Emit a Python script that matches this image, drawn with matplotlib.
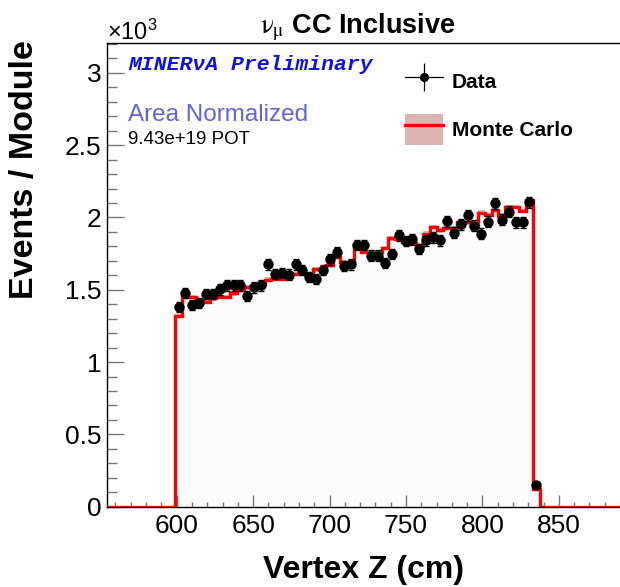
import numpy as np
import matplotlib
matplotlib.use('Agg')
import matplotlib.pyplot as plt
from matplotlib.lines import Line2D
from matplotlib.patches import Patch
from matplotlib.legend_handler import HandlerTuple

plt.rcParams['font.family'] = ['Liberation Sans', 'DejaVu Sans']
plt.rcParams['mathtext.fontset'] = 'stix'
plt.rcParams['hatch.color'] = '#c08080'
plt.rcParams['hatch.linewidth'] = 0.6

# ---------------- data (values in units of 10^3 events / module) ----------------
bin_low = 599.0
bin_width = 4.5
data_vals = [1.378, 1.475, 1.394, 1.410, 1.468, 1.468, 1.502, 1.530, 1.530, 1.530,
             1.458, 1.516, 1.530, 1.675, 1.610, 1.617, 1.605, 1.675, 1.636, 1.590,
             1.574, 1.636, 1.710, 1.762, 1.663, 1.675, 1.809, 1.809, 1.737, 1.737,
             1.686, 1.748, 1.878, 1.838, 1.848, 1.781, 1.843, 1.862, 1.843, 1.974,
             1.896, 1.954, 2.016, 1.942, 1.889, 1.970, 2.097, 1.986, 2.041, 1.968,
             1.968, 2.106, 0.150]
data_errs = [0.035, 0.035, 0.035, 0.035, 0.035, 0.035, 0.035, 0.035, 0.035, 0.035,
             0.035, 0.035, 0.035, 0.036, 0.036, 0.036, 0.036, 0.036, 0.036, 0.036,
             0.036, 0.036, 0.036, 0.037, 0.036, 0.036, 0.037, 0.037, 0.037, 0.037,
             0.037, 0.037, 0.038, 0.037, 0.037, 0.037, 0.037, 0.038, 0.037, 0.038,
             0.038, 0.038, 0.038, 0.038, 0.038, 0.038, 0.039, 0.038, 0.039, 0.038,
             0.038, 0.039, 0.010]
mc_vals = [1.318, 1.451, 1.451, 1.424, 1.417, 1.440, 1.451, 1.451, 1.475, 1.498,
           1.516, 1.525, 1.540, 1.570, 1.574, 1.578, 1.588, 1.610, 1.613, 1.610,
           1.642, 1.645, 1.670, 1.728, 1.690, 1.668, 1.807, 1.760, 1.760, 1.762,
           1.788, 1.855, 1.852, 1.833, 1.825, 1.805, 1.889, 1.933, 1.912, 1.928,
           1.928, 1.966, 1.966, 1.940, 2.034, 2.016, 2.052, 2.012, 2.073, 2.073,
           2.044, 2.120, 0.122]
mc_errs = [0.016] * 52 + [0.004]

x_range = (554.25, 889.7)
y_range = (0.0, 3.21)
x_major = [600, 650, 700, 750, 800, 850]
y_major = [0, 0.5, 1, 1.5, 2, 2.5, 3]
y_tick_labels = ['0', '0.5', '1', '1.5', '2', '2.5', '3']

# ---------------- figure ----------------
W, H = 620, 587
fig = plt.figure(figsize=(W / 100, H / 100), dpi=100)
ax_l, ax_b, ax_t = 106.7 / W, (H - 506.7) / H, (H - 42.5) / H
ax = fig.add_axes([ax_l, ax_b, 1.0 - ax_l, ax_t - ax_b])

n = len(mc_vals)
edges = bin_low + bin_width * np.arange(n + 1)
centers = 0.5 * (edges[:-1] + edges[1:])
mc = np.array(mc_vals)
mce = np.array(mc_errs)

# faint fill under MC
ax.stairs(mc, edges, fill=True, color='#fcfcfc', baseline=0, zorder=1)
# MC error band
ax.stairs(mc + mce, edges, baseline=mc - mce, fill=True, color='#e4b0b0', zorder=2)
# MC line (extended with zero outside the bins across the full axis range)
ext_edges = np.concatenate([[x_range[0]], edges, [x_range[1]]])
ext_vals = np.concatenate([[0.0], mc, [0.0]])
ax.stairs(ext_vals, ext_edges, baseline=None, color='#ff0000', lw=2.4, zorder=3)

# data
ax.errorbar(centers, data_vals, yerr=data_errs, fmt='o', color='black', ms=6.5,
            elinewidth=1.0, capsize=2.5, capthick=1.0, zorder=5)

ax.set_xlim(*x_range)
ax.set_ylim(*y_range)
ax.set_xticks(x_major)
ax.set_xticks(np.arange(560, 891, 10), minor=True)
ax.set_yticks(y_major)
ax.set_yticklabels(y_tick_labels)
ax.set_yticks(np.arange(0, 3.21, 0.1), minor=True)

ax.spines['right'].set_visible(False)
for s in ['left', 'bottom', 'top']:
    ax.spines[s].set_linewidth(1.0)
ax.tick_params(axis='x', which='major', direction='in', length=8.6, width=1.0,
               color='#777777', labelsize=19, pad=5.5)
ax.tick_params(axis='x', which='minor', direction='in', length=3.6, width=1.0,
               color='#777777')
ax.tick_params(axis='y', which='major', direction='in', length=12, width=1.0,
               color='#777777', labelsize=19, pad=3.6)
ax.tick_params(axis='y', which='minor', direction='in', length=7, width=1.0,
               color='#777777')

# axis titles
fig.text(364 / W, (H - 570) / H, 'Vertex Z (cm)', ha='center', va='center',
         fontsize=23, fontweight='bold')
fig.text(25 / W, (H - 40) / H, 'Events / Module', ha='center', va='top',
         rotation=90, fontsize=24.5, fontweight='bold')

# title and multiplier
fig.text(358 / W, (H - 33) / H, r'$\mathrm{\nu_{\mu}}$ CC Inclusive', ha='center',
         va='baseline', fontsize=19.5, fontweight='bold')
fig.text(107 / W, (H - 40) / H, r'$\mathregular{\times10^{3}}$', ha='left',
         va='baseline', fontsize=17)

# annotations
fig.text(128 / W, (H - 65) / H, 'MINERνA Preliminary', ha='left', va='center',
         fontsize=15.4, color='#1010ee', fontweight='bold', fontstyle='italic',
         family=['Liberation Mono', 'DejaVu Sans Mono'])
fig.text(128 / W, (H - 115) / H, 'Area Normalized', ha='left', va='center',
         fontsize=17.5, color='#6262e2')
fig.text(128 / W, (H - 140) / H, '9.43e+19 POT', ha='left', va='center',
         fontsize=13.5, color='black')

# legend
h_data = (Line2D([], [], color='black', lw=0.9, marker='|', ms=20, mew=0.9),
          Line2D([], [], color='black', ls='', marker='o', ms=5.5))
h_mc = (Patch(facecolor='#dcb4b4', edgecolor='none', hatch='....'),
        Line2D([], [], color='#ff0000', lw=2.4))
ax_w = W - 106.7
ax_h = 506.7 - 42.5
leg = ax.legend([h_data, h_mc], ['Data', 'Monte Carlo'],
                handler_map={tuple: HandlerTuple(ndivide=1, pad=0)},
                loc='upper left',
                bbox_to_anchor=((405 - 106.7) / ax_w, (506.7 - 66.0) / ax_h),
                frameon=False, borderpad=0, borderaxespad=0,
                handlelength=1.8, handleheight=1.95, handletextpad=0.45,
                labelspacing=0.78,
                prop={'family': 'Liberation Sans', 'weight': 'bold', 'size': 15})

fig.savefig('out.png', dpi=100)
